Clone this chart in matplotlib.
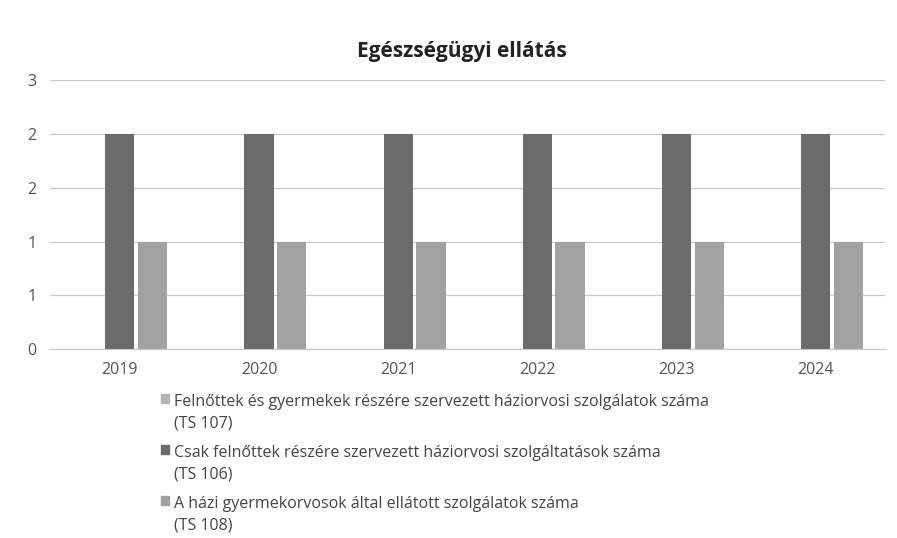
import numpy as np
import matplotlib.pyplot as plt
from matplotlib.ticker import FuncFormatter, MultipleLocator
from matplotlib.patches import Patch

# Adatok
evek = ['2019', '2020', '2021', '2022', '2023', '2024']
felnott_es_gyermek = [0, 0, 0, 0, 0, 0]
csak_felnott = [2, 2, 2, 2, 2, 2]
gyermekorvos = [1, 1, 1, 1, 1, 1]

cimkek = ['Felnőttek és gyermekek részére szervezett háziorvosi szolgálatok száma\n(TS 107)',
          'Csak felnőttek részére szervezett háziorvosi szolgáltatások száma\n(TS 106)',
          'A házi gyermekorvosok által ellátott szolgálatok száma\n(TS 108)']
szinek = ['#b4b4b4', '#6b6b6b', '#a2a2a2']

plt.rcParams['font.family'] = ['Open Sans', 'DejaVu Sans']

fig = plt.figure(figsize=(8.97, 5.38), dpi=100)
ax = fig.add_axes([0.056, 0.351, 0.931, 0.50])

x = np.arange(len(evek))
w = 0.21
gap = 0.025
ax.bar(x - w - gap, felnott_es_gyermek, w, color=szinek[0])
ax.bar(x, csak_felnott, w, color=szinek[1])
ax.bar(x + w + gap, gyermekorvos, w, color=szinek[2])

ax.set_xlim(-0.5, len(evek) - 0.5)
ax.set_ylim(0, 2.5)
ax.yaxis.set_major_locator(MultipleLocator(0.5))
ax.yaxis.set_major_formatter(FuncFormatter(lambda v, p: str(int(np.floor(v + 0.5)))))
ax.set_xticks(x)
ax.set_xticklabels(evek)
ax.tick_params(axis='both', length=0, colors='#555555', labelsize=11.5)
ax.tick_params(axis='y', pad=10)
ax.tick_params(axis='x', pad=9)
ax.grid(axis='y', color='#c8c8c8', linewidth=0.9)
ax.set_axisbelow(True)
for s in ax.spines.values():
    s.set_visible(False)
ax.spines['bottom'].set_visible(True)
ax.spines['bottom'].set_color('#c8c8c8')

fig.text(0.515, 0.905, 'Egészségügyi ellátás', ha='center', va='center',
         fontsize=15, fontweight='bold', color='#222222')

handles = [Patch(color=c) for c in szinek]
leg = fig.legend(handles, cimkek, loc='upper left', bbox_to_anchor=(0.172, 0.28),
                 frameon=False, fontsize=11.5, handlelength=0.55, handleheight=0.55,
                 handletextpad=0.3, labelspacing=0.85, borderaxespad=0)
for t in leg.get_texts():
    t.set_color('#444444')
    t.set_linespacing(1.45)
# jelölő négyzet az első sorhoz igazítva
for oszlop in leg._legend_handle_box.get_children():
    for sor in oszlop.get_children():
        sor.align = 'top'

fig.savefig('out.png', dpi=100)
